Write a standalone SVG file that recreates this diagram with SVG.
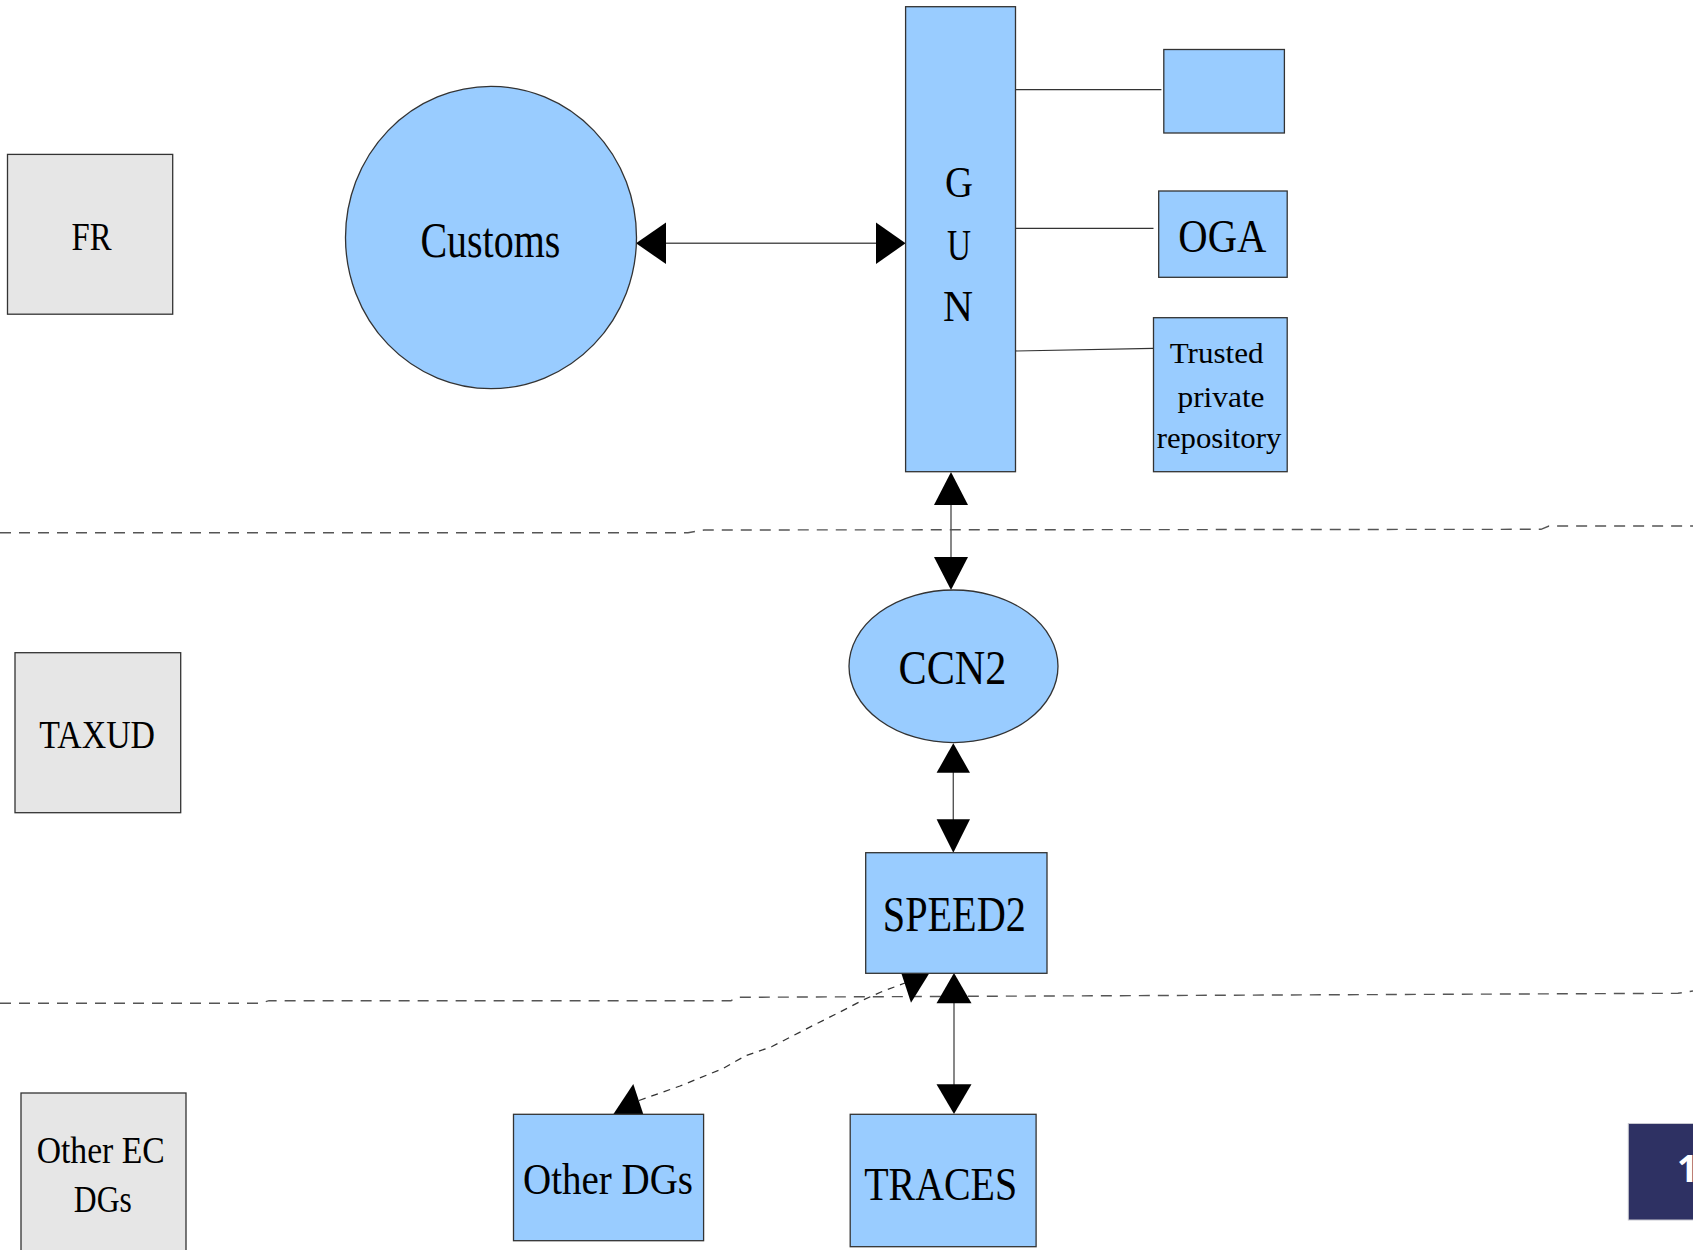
<svg xmlns="http://www.w3.org/2000/svg" width="1693" height="1250" viewBox="0 0 1693 1250">
<style>
  .gray { fill: #e6e6e6; stroke: #333; stroke-width: 1.3; }
  .blue { fill: #99ccff; stroke: #333; stroke-width: 1.3; }
  .lbl { font-family: "Liberation Serif", "Times New Roman", serif; fill: #000; text-anchor: middle; }
  .conn { stroke: #555; stroke-width: 1.4; fill: none; }
  .link { stroke: #333; stroke-width: 1.2; fill: none; }
  .sep { stroke: #555; stroke-width: 1.4; fill: none; stroke-dasharray: 11 8; }
  .dash { stroke: #333; stroke-width: 1.3; fill: none; stroke-dasharray: 7 6; }
  .head { fill: #000; stroke: none; }
</style>
<rect width="1693" height="1250" fill="#ffffff"/>

<g id="separators">
  <polyline class="sep" points="0,532.7 688,532.7 704,530 1541,529.3 1549,526 1693,526"/>
  <polyline class="sep" points="0,1003.3 260,1003.3 269,1000.7 731,1000.7 738,997.3 1678,993.3 1693,991"/>
</g>

<g id="connectors">
  <line class="conn" x1="664" y1="243.3" x2="878" y2="243.3"/>
  <polygon class="head" points="636,243.3 666,222.5 666,264"/>
  <polygon class="head" points="905.6,243.3 876,222.5 876,264"/>

  <line class="link" x1="1015.5" y1="89.7" x2="1161.4" y2="89.7"/>
  <line class="link" x1="1015.5" y1="228.3" x2="1153.5" y2="228.3"/>
  <line class="link" x1="1015.5" y1="351" x2="1153.5" y2="348.3"/>

  <line class="conn" x1="951" y1="503" x2="951" y2="559"/>
  <polygon class="head" points="951,472 934,505 968,505"/>
  <polygon class="head" points="951,590 934,557 968,557"/>

  <line class="conn" x1="953.3" y1="771" x2="953.3" y2="821"/>
  <polygon class="head" points="953.3,743.3 936.6,772.7 970,772.7"/>
  <polygon class="head" points="953.3,852.7 936.6,819.3 970,819.3"/>

  <line class="conn" x1="954" y1="1001" x2="954" y2="1086"/>
  <polygon class="head" points="954,973 936.5,1003.3 971.5,1003.3"/>
  <polygon class="head" points="954,1114 936.5,1084.3 971.5,1084.3"/>

  <polyline class="dash" points="639,1100.5 680,1086 723,1068.5 745,1056 772,1046.5 813,1025.5 840,1012 863,1000 881,992 905,983"/>
  <polygon class="head" points="633.3,1084 613.3,1114.3 643.3,1114.3"/>
  <polygon class="head" points="898.3,964 929.3,973.3 911,1002.7"/>
</g>

<g id="node-fr">
  <rect class="gray" x="7.5" y="154.4" width="165.2" height="159.8"/>
  <text class="lbl" x="91.5" y="250" font-size="40" textLength="40" lengthAdjust="spacingAndGlyphs">FR</text>
</g>

<g id="node-taxud">
  <rect class="gray" x="15" y="652.7" width="165.7" height="160"/>
  <text class="lbl" x="97.2" y="747.7" font-size="39" textLength="115.7" lengthAdjust="spacingAndGlyphs">TAXUD</text>
</g>

<g id="node-other-ec-dgs">
  <rect class="gray" x="21" y="1093" width="165" height="170"/>
  <text class="lbl" x="100.7" y="1163.3" font-size="38" textLength="128" lengthAdjust="spacingAndGlyphs">Other EC</text>
  <text class="lbl" x="102.8" y="1211.7" font-size="38" textLength="58" lengthAdjust="spacingAndGlyphs">DGs</text>
</g>

<g id="node-customs">
  <ellipse class="blue" cx="491" cy="237.5" rx="145.5" ry="151.2"/>
  <text class="lbl" x="490.4" y="257" font-size="50" textLength="140" lengthAdjust="spacingAndGlyphs">Customs</text>
</g>

<g id="node-gun">
  <rect class="blue" x="905.6" y="6.7" width="109.9" height="465"/>
  <text class="lbl" x="959" y="197" font-size="44" textLength="28" lengthAdjust="spacingAndGlyphs">G</text>
  <text class="lbl" x="959" y="260" font-size="44" textLength="24" lengthAdjust="spacingAndGlyphs">U</text>
  <text class="lbl" x="958" y="321" font-size="44" textLength="30" lengthAdjust="spacingAndGlyphs">N</text>
</g>

<g id="node-blank">
  <rect class="blue" x="1163.8" y="49.5" width="120.6" height="83.5"/>
</g>

<g id="node-oga">
  <rect class="blue" x="1158.7" y="191" width="128.5" height="86.3"/>
  <text class="lbl" x="1222.3" y="252.3" font-size="47" textLength="88" lengthAdjust="spacingAndGlyphs">OGA</text>
</g>

<g id="node-trusted">
  <rect class="blue" x="1153.5" y="317.7" width="133.7" height="154"/>
  <text class="lbl" x="1216.6" y="363.3" font-size="30" textLength="93.7" lengthAdjust="spacingAndGlyphs">Trusted</text>
  <text class="lbl" x="1221" y="407.3" font-size="30" textLength="87" lengthAdjust="spacingAndGlyphs">private</text>
  <text class="lbl" x="1219" y="448.3" font-size="30" textLength="124.6" lengthAdjust="spacingAndGlyphs">repository</text>
</g>

<g id="node-ccn2">
  <ellipse class="blue" cx="953.5" cy="666.3" rx="104.5" ry="76.3"/>
  <text class="lbl" x="952.5" y="684" font-size="48" textLength="108" lengthAdjust="spacingAndGlyphs">CCN2</text>
</g>

<g id="node-speed2">
  <rect class="blue" x="865.7" y="852.7" width="181.3" height="120.6"/>
  <text class="lbl" x="954.3" y="930.7" font-size="50" textLength="143" lengthAdjust="spacingAndGlyphs">SPEED2</text>
</g>

<g id="node-other-dgs">
  <rect class="blue" x="513.5" y="1114.3" width="190.1" height="126.4"/>
  <text class="lbl" x="608" y="1194.3" font-size="45" textLength="170" lengthAdjust="spacingAndGlyphs">Other DGs</text>
</g>

<g id="node-traces">
  <rect class="blue" x="850.2" y="1114.3" width="185.9" height="132.4"/>
  <text class="lbl" x="940.7" y="1200" font-size="47" textLength="153" lengthAdjust="spacingAndGlyphs">TRACES</text>
</g>

<g id="page-number">
  <rect x="1628.3" y="1123.5" width="70" height="96.5" fill="#2e3163" stroke="#c8c8d0" stroke-width="1"/>
  <text x="1677" y="1181.7" font-family="Open Sans, 'Liberation Sans', sans-serif" font-weight="bold" font-size="37" fill="#ffffff">1</text>
</g>
</svg>
